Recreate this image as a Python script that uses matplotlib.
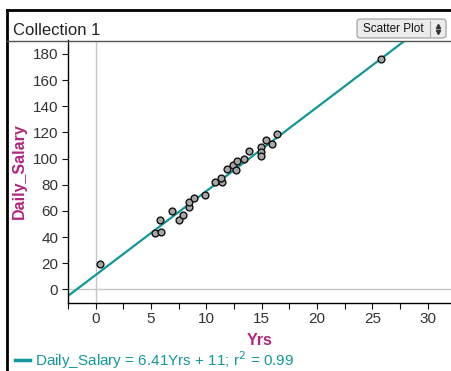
import numpy as np
import matplotlib
matplotlib.use("Agg")
import matplotlib.pyplot as plt
from matplotlib.patches import FancyBboxPatch
from matplotlib.lines import Line2D

plt.rcParams['font.family'] = ['Liberation Sans', 'DejaVu Sans']

# data
yrs = [0.4, 5.4, 5.9, 5.8, 6.9, 7.5, 7.9, 8.4, 8.4, 8.9, 9.9, 10.8, 11.4, 11.3,
       11.9, 12.4, 12.8, 12.7, 13.4, 13.9, 14.9, 14.9, 14.9, 15.4, 15.9, 16.4, 25.8]
daily_salary = [19, 43, 44, 53, 60, 53, 57, 63, 67, 70, 72, 82, 82, 85,
                92, 95, 98, 91, 100, 106, 109, 105, 102, 114, 111, 119, 176]
slope = 6.41
intercept = 11
x_ticks = [0, 5, 10, 15, 20, 25, 30]
y_ticks = [0, 20, 40, 60, 80, 100, 120, 140, 160, 180]

W, H = 452, 371
teal = '#12979a'
magenta = '#b3257d'

fig = plt.figure(figsize=(W / 100, H / 100), dpi=100)

def fx(px):
    return px / W

def fy(py):
    return 1 - py / H

# frame + title bar
fig.add_artist(Line2D([fx(7), fx(7)], [fy(10), 0], color='black', lw=2))
fig.add_artist(Line2D([fx(7), 1], [fy(10), fy(10)], color='black', lw=2))
fig.add_artist(Line2D([fx(7), 1], [fy(40.5), fy(40.5)], color='#555555', lw=1))
fig.text(fx(13), fy(35), 'Collection 1', fontsize=12, color='#222222', va='baseline')

# scatter plot button
btn = FancyBboxPatch((fx(357), fy(38)), fx(446) - fx(357), fy(19) - fy(38),
                     boxstyle='round,pad=0,rounding_size=0.008',
                     transform=fig.transFigure, facecolor='#ececec',
                     edgecolor='#9a9a9a', lw=0.8)
fig.add_artist(btn)
fig.add_artist(Line2D([fx(430), fx(430)], [fy(21), fy(36)], color='#aaaaaa', lw=0.8))
fig.text(fx(393), fy(28.5), 'Scatter Plot', fontsize=8.5, ha='center', va='center', color='#111111')
fig.add_artist(Line2D([fx(438)], [fy(25.5)], marker='^', ms=3, color='#333333', lw=0))
fig.add_artist(Line2D([fx(438)], [fy(31.5)], marker='v', ms=3, color='#333333', lw=0))

ax = fig.add_axes([fx(68), fy(302.7), 1 - fx(68), fy(40.5) - fy(302.7)])
ax.set_xlim(-2.5, 32.2)
ax.set_ylim(-10.2, 190.2)

ax.axvline(0, color='#c8c8c8', lw=1, zorder=0)
ax.axhline(0, color='#c8c8c8', lw=1, zorder=0)

xs = np.array(ax.get_xlim())
ax.plot(xs, slope * xs + intercept, color=teal, lw=1.6, zorder=2)
ax.scatter(yrs, daily_salary, s=24, facecolor='#a6a6a6', edgecolor='#111111',
           linewidths=1.0, zorder=3)

ax.spines['top'].set_visible(False)
ax.spines['right'].set_visible(False)
ax.spines['left'].set_linewidth(1)
ax.spines['bottom'].set_linewidth(1)
ax.set_xticks(x_ticks)
ax.set_xticks(np.arange(-2.5, 32, 5), minor=True)
ax.set_yticks(y_ticks)
ax.tick_params(axis='both', which='both', direction='out', length=4, width=0.8,
               labelsize=11, colors='#111111', labelcolor='#333333', pad=3)

ax.set_xlabel('Yrs', fontsize=11.5, fontweight='bold', color=magenta, labelpad=5)
ax.set_ylabel('Daily_Salary', fontsize=11.5, fontweight='bold', color=magenta, labelpad=4)

fig.add_artist(Line2D([fx(15), fx(30)], [fy(360), fy(360)], color=teal, lw=2.5))
fig.text(fx(35), fy(360), 'Daily_Salary = 6.41Yrs + 11; r$^2$ = 0.99',
         fontsize=11, color=teal, va='center')

fig.savefig('out.png', dpi=100)
